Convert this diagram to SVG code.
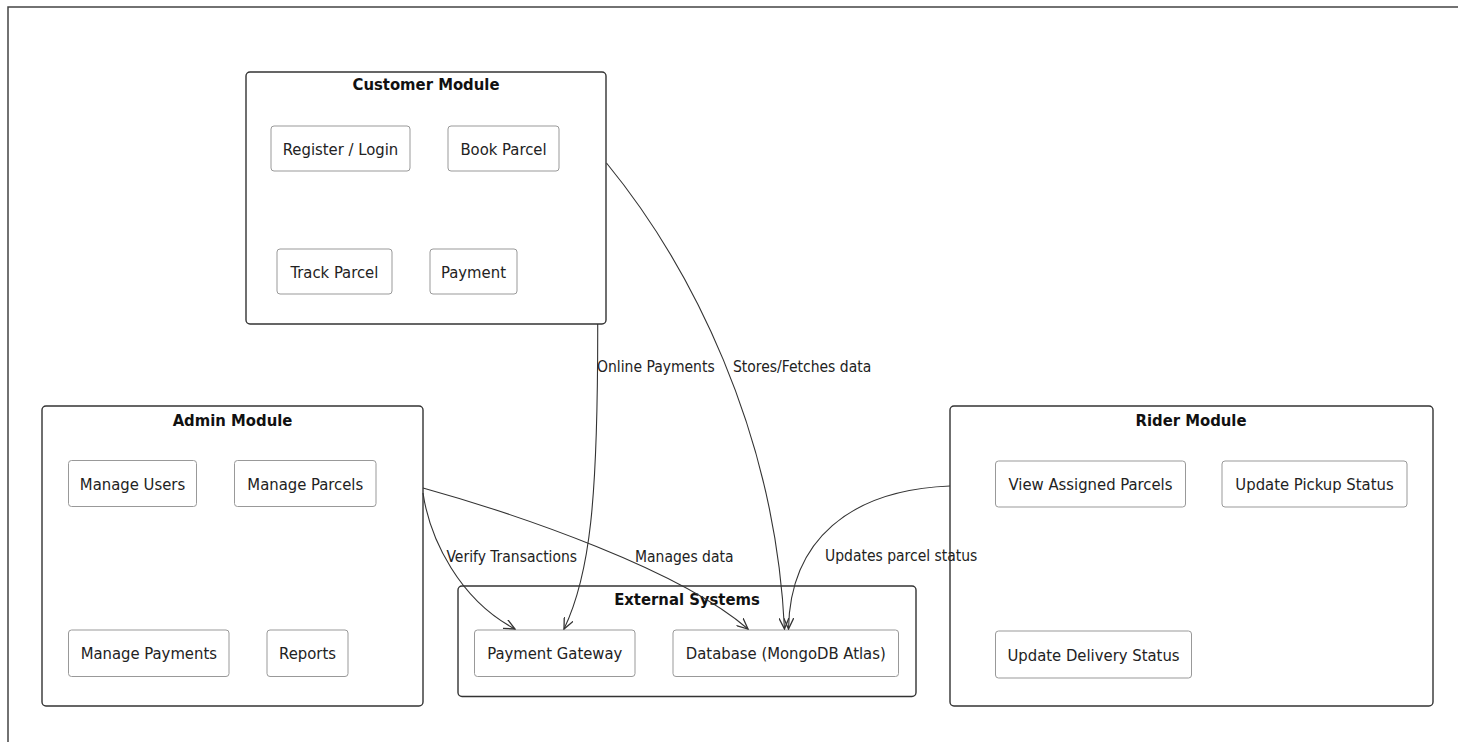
<svg xmlns="http://www.w3.org/2000/svg" width="1458" height="742" viewBox="0 0 1458 742">
  <style>
    .frame { fill: none; stroke: #444; stroke-width: 1.5; }
    .module { fill: #fff; stroke: #333; stroke-width: 1.4; }
    .item { fill: #fff; stroke: #999; stroke-width: 1; }
    .title { font-family: "DejaVu Sans Condensed", "DejaVu Sans", sans-serif; font-weight: bold; font-size: 16.5px; fill: #111; text-anchor: middle; }
    .label { font-family: "DejaVu Sans Condensed", "DejaVu Sans", sans-serif; font-size: 16.5px; fill: #222; text-anchor: middle; }
    .edge-label { font-family: "DejaVu Sans Condensed", "DejaVu Sans", sans-serif; font-size: 15.5px; fill: #222; }
    .edge { fill: none; stroke: #333; stroke-width: 1.1; }
  </style>
  <defs>
    <marker id="arrow" viewBox="0 0 12 10" refX="11" refY="5" markerWidth="12" markerHeight="10" markerUnits="userSpaceOnUse" orient="auto">
      <path d="M0,0 L11,5 L0,10" fill="none" stroke="#333" stroke-width="1.3"/>
    </marker>
  </defs>

  <rect width="1458" height="742" fill="#fff"/>
  <!-- page frame (open on the right and bottom) -->
  <path class="frame" d="M8,742 L8,7 L1458,7"/>

  <!-- Customer Module -->
  <g id="customer-module">
    <rect class="module" x="246" y="72" width="360" height="252" rx="4"/>
    <text class="title" x="426" y="90">Customer Module</text>
    <g id="register-login">
      <rect class="item" x="271" y="126" width="139" height="45" rx="3"/>
      <text class="label" x="340.5" y="154.5">Register / Login</text>
    </g>
    <g id="book-parcel">
      <rect class="item" x="448" y="126" width="111" height="45" rx="3"/>
      <text class="label" x="503.5" y="154.5">Book Parcel</text>
    </g>
    <g id="track-parcel">
      <rect class="item" x="277" y="249" width="115" height="45" rx="3"/>
      <text class="label" x="334.5" y="277.5">Track Parcel</text>
    </g>
    <g id="payment">
      <rect class="item" x="430" y="249" width="87" height="45" rx="3"/>
      <text class="label" x="473.5" y="277.5">Payment</text>
    </g>
  </g>

  <!-- Admin Module -->
  <g id="admin-module">
    <rect class="module" x="42" y="406" width="381" height="300" rx="4"/>
    <text class="title" x="232.5" y="426">Admin Module</text>
    <g id="manage-users">
      <rect class="item" x="68.5" y="460.5" width="128" height="46" rx="3"/>
      <text class="label" x="132.5" y="489.5">Manage Users</text>
    </g>
    <g id="manage-parcels">
      <rect class="item" x="234.5" y="460.5" width="141.5" height="46" rx="3"/>
      <text class="label" x="305.3" y="489.5">Manage Parcels</text>
    </g>
    <g id="manage-payments">
      <rect class="item" x="68.5" y="630" width="160.5" height="46.5" rx="3"/>
      <text class="label" x="148.8" y="659">Manage Payments</text>
    </g>
    <g id="reports">
      <rect class="item" x="267" y="630" width="81" height="46.5" rx="3"/>
      <text class="label" x="307.5" y="659">Reports</text>
    </g>
  </g>

  <!-- Rider Module -->
  <g id="rider-module">
    <rect class="module" x="950" y="406" width="483" height="300" rx="4"/>
    <text class="title" x="1191" y="426">Rider Module</text>
    <g id="view-assigned-parcels">
      <rect class="item" x="995.5" y="461" width="190" height="46" rx="3"/>
      <text class="label" x="1090.5" y="490">View Assigned Parcels</text>
    </g>
    <g id="update-pickup-status">
      <rect class="item" x="1222" y="461" width="185" height="46" rx="3"/>
      <text class="label" x="1314.5" y="490">Update Pickup Status</text>
    </g>
    <g id="update-delivery-status">
      <rect class="item" x="995.5" y="631" width="196" height="47" rx="3"/>
      <text class="label" x="1093.5" y="660.5">Update Delivery Status</text>
    </g>
  </g>

  <!-- External Systems -->
  <g id="external-systems">
    <rect class="module" x="458" y="586" width="458" height="110.5" rx="4"/>
    <text class="title" x="687" y="605">External Systems</text>
    <g id="payment-gateway">
      <rect class="item" x="474.5" y="630" width="160.5" height="46.5" rx="3"/>
      <text class="label" x="554.8" y="659">Payment Gateway</text>
    </g>
    <g id="database">
      <rect class="item" x="673" y="630" width="225.5" height="46.5" rx="3"/>
      <text class="label" x="785.8" y="659">Database (MongoDB Atlas)</text>
    </g>
  </g>

  <!-- Connectors -->
  <g id="connectors">
    <path class="edge" marker-end="url(#arrow)" d="M597.7,324 C598,500 590,575 564,629"/>
    <path class="edge" marker-end="url(#arrow)" d="M606.5,163 C690,265 775,430 784.5,629"/>
    <path class="edge" marker-end="url(#arrow)" d="M423,493 C430,540 460,600 515,629"/>
    <path class="edge" marker-end="url(#arrow)" d="M423,488 C520,515 680,570 748,629"/>
    <path class="edge" marker-end="url(#arrow)" d="M950,486 C850,490 790,540 788.5,629"/>

    <text class="edge-label" x="597" y="372">Online Payments</text>
    <text class="edge-label" x="733" y="372">Stores/Fetches data</text>
    <text class="edge-label" x="446.5" y="561.5">Verify Transactions</text>
    <text class="edge-label" x="635" y="561.5">Manages data</text>
    <text class="edge-label" x="825" y="561">Updates parcel status</text>
  </g>
</svg>
